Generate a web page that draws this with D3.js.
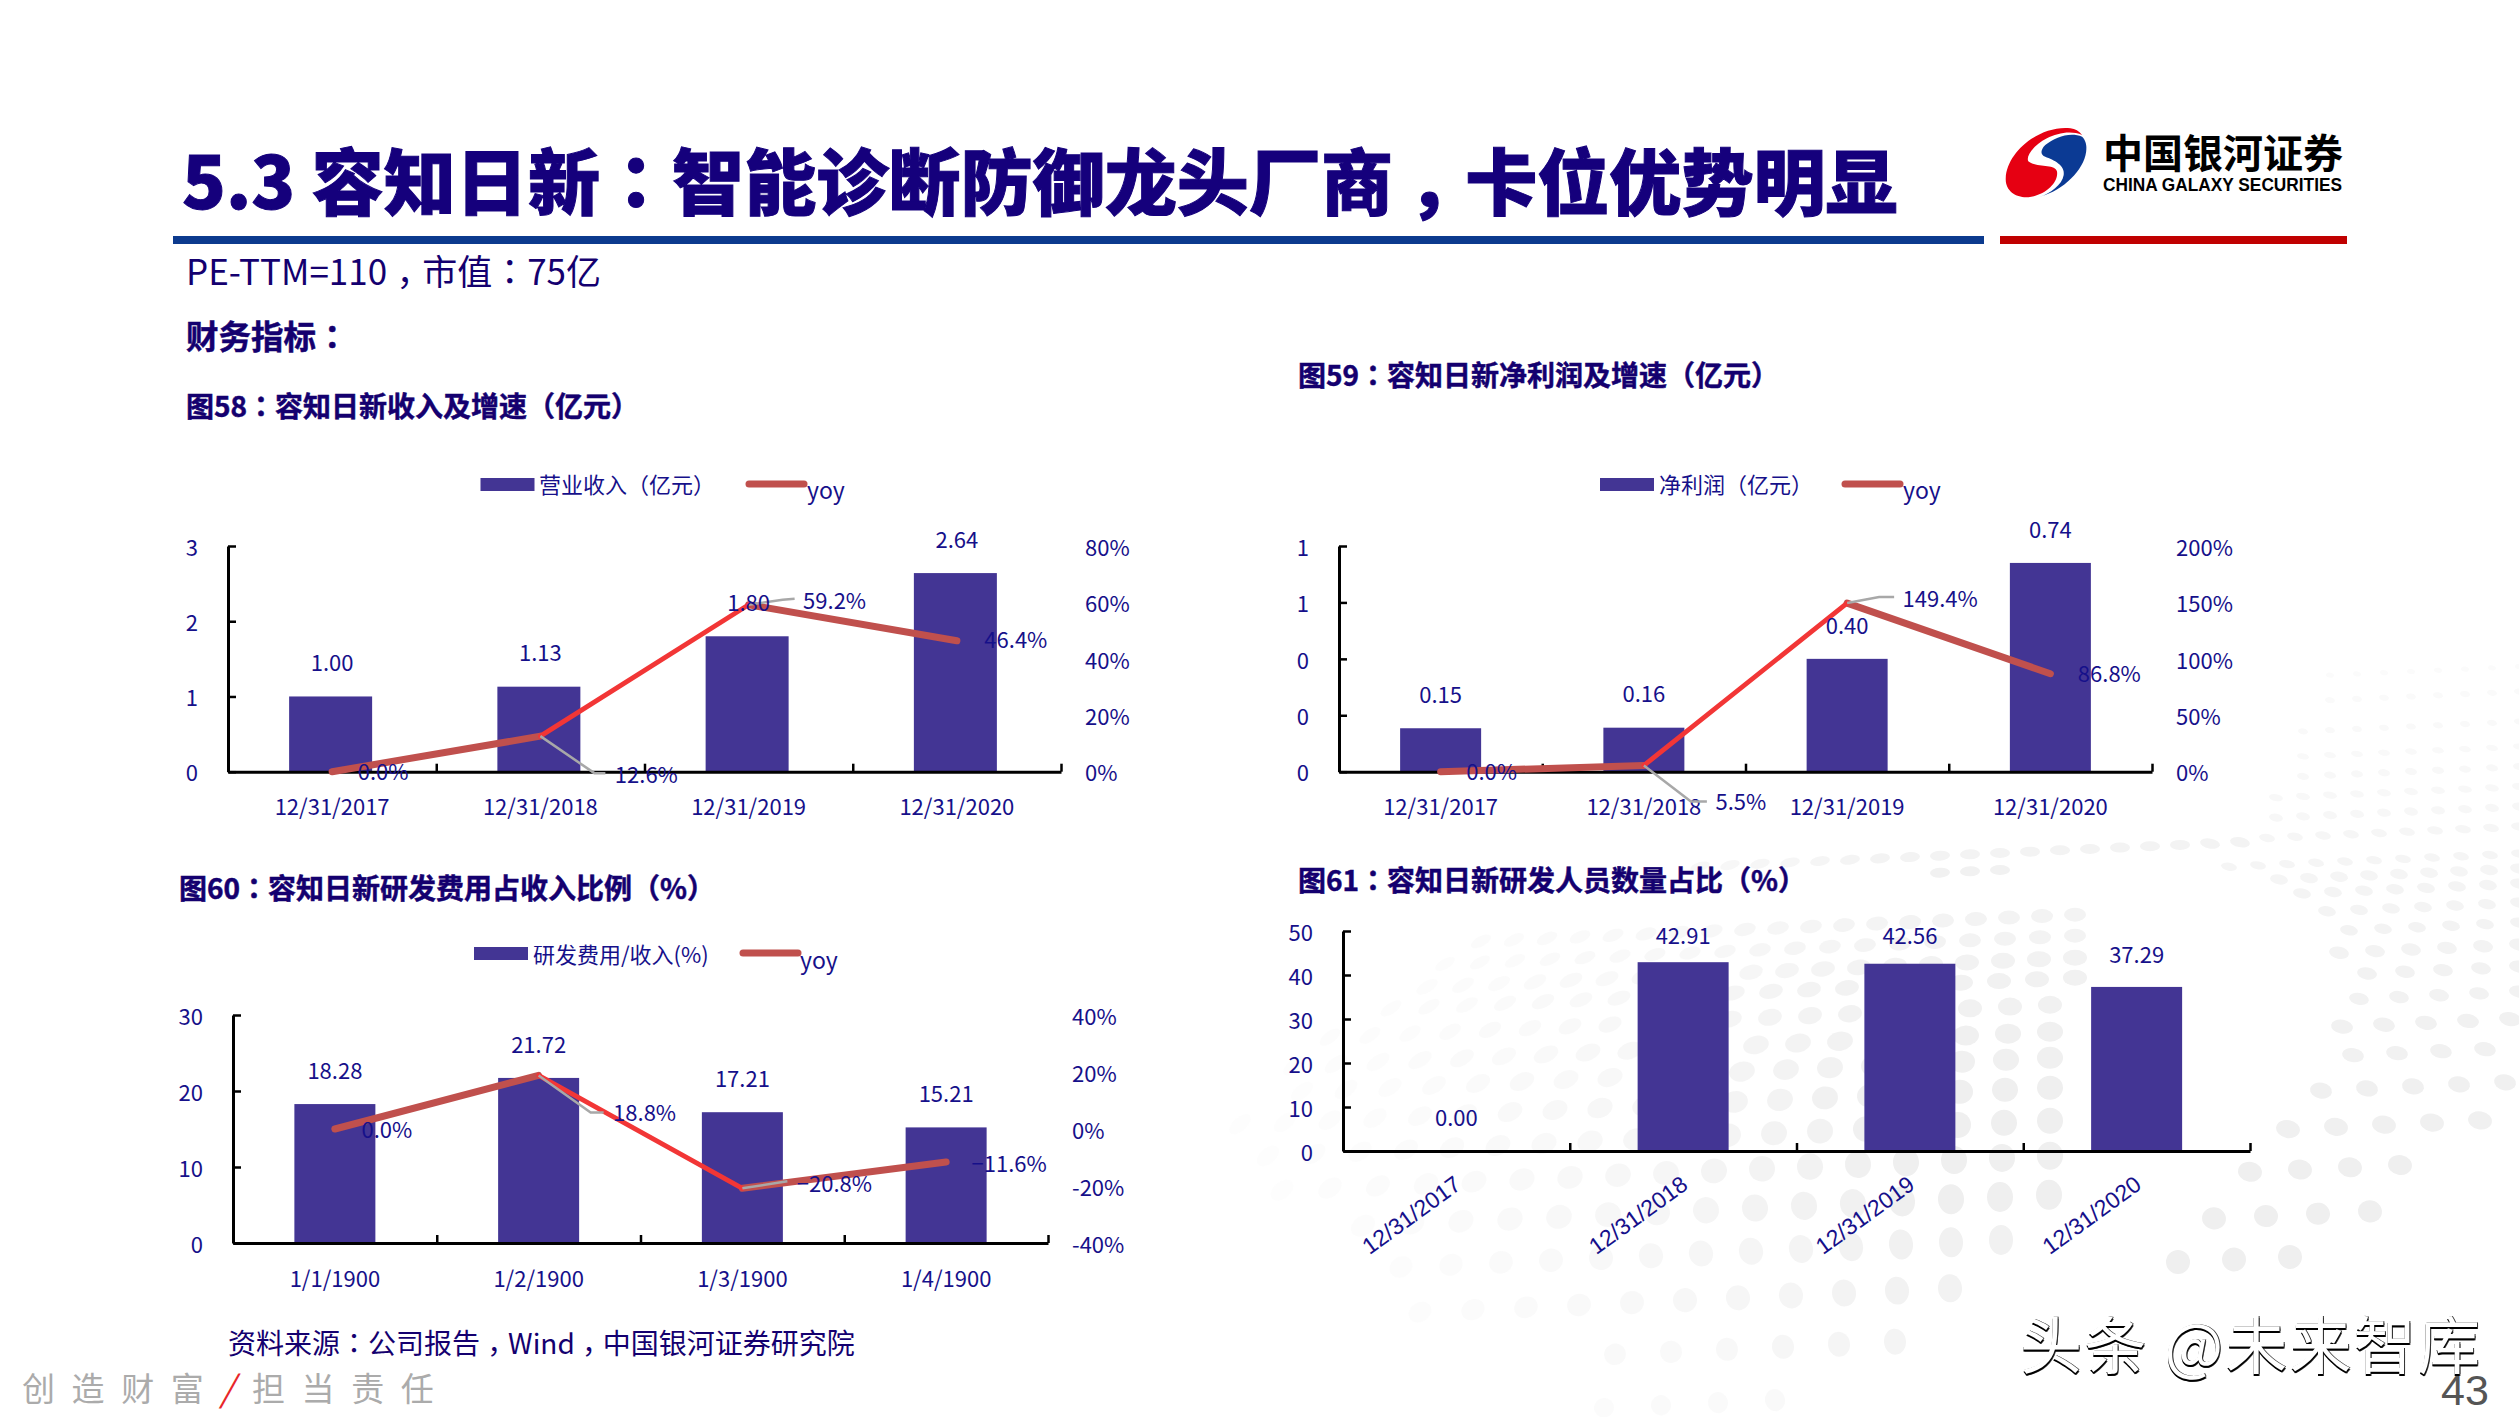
<!DOCTYPE html>
<html lang="zh-CN">
<head>
<meta charset="utf-8">
<title>容知日新</title>
<script src="https://cdn.jsdelivr.net/npm/d3@7/dist/d3.min.js"></script>
<style>
html,body{margin:0;padding:0;background:#fff;}
svg{display:block;}
text{font-family:"Noto Sans CJK SC","Noto Sans",sans-serif;}
</style>
</head>
<body>
<svg id="page" width="2519" height="1417" xmlns="http://www.w3.org/2000/svg"></svg>
<script>
// ---------- data ----------
const datesYear = ["12/31/2017","12/31/2018","12/31/2019","12/31/2020"];
const datesSerial = ["1/1/1900","1/2/1900","1/3/1900","1/4/1900"];

const revenue = [1.00,1.13,1.80,2.64];
const revenueYoy = [0.0,12.6,59.2,46.4];
const profit = [0.154,0.156,0.40,0.74];
const profitYoy = [0.0,5.5,149.4,86.8];
const rdRatio = [18.28,21.72,17.21,15.21];
const rdRatioYoy = [0.0,18.8,-20.8,-11.6];
const staffRatio = [0.00,42.91,42.56,37.29];

const leftTicks1 = [0,1,2,3];
const rightTicks1 = [0,20,40,60,80];
const leftTicks2 = [0,0.2,0.4,0.6,0.8];
const rightTicks2 = [0,50,100,150,200];
const leftTicks3 = [0,10,20,30];
const rightTicks3 = [-40,-20,0,20,40];
const leftTicks4 = [0,10,20,30,40,50];

// ---------- styles ----------
const NAVY = "#14006f", LABEL = "#16108a", BAR = "#433594";
const THICK = "#C0504D", THIN = "#F23636", LEADER = "#A8A8A8";
const SIZE = 22;

const svg = d3.select("#page");
const fmtPct = d3.format(".1f");

// rich text: fullwidth punctuation is centred in its cell in the reference
function rich(sel, str) {
  const parts = str.match(/[：（），]|[^：（），]+/g);
  parts.forEach((p, i) => {
    const t = sel.append("tspan").text(p);
    if ("：（），".includes(p)) t.attr("lang","zh-Hant").style("font-family", '"Noto Sans CJK TC"');
    if (p === "，") t.attr("dy", "0.3em");
    if (i > 0 && parts[i-1] === "，") t.attr("dy", "-0.3em");
  });
  return sel;
}
function label(x, y, str, o = {}) {
  const t = svg.append("text").attr("x", x).attr("y", y + (o.size ?? SIZE) * 0.35)
    .attr("font-size", o.size ?? SIZE)
    .attr("font-weight", o.weight ?? 400)
    .attr("fill", o.fill ?? LABEL)
    .attr("text-anchor", o.anchor ?? "start");
  if (o.spacing) t.attr("letter-spacing", o.spacing);
  if (o.family) t.style("font-family", o.family);
  if (o.stroke) t.attr("stroke", o.fill ?? LABEL).attr("stroke-width", o.stroke);
  return rich(t, str);
}

// ---------- background halftone (decoration) ----------
const dotRows = [
  // y at x=2000, xStart, xEnd, dx, rx, ry, tone
  [1390,1580,1775,57,10,12,"#f7f7f7"],[1337,1560,1895,56,11,13,"#f4f4f4"],
  [1286,1400,1950,53,12,14,"#f2f2f2"],[1240,1380,2001,50,12,15,"#f1f1f1"],
  [1197,1320,2049,49,13,15,"#efefef"],[1158,1280,2050,48,13,14,"#efefef"],
  [1123,1250,2050,46,13,13,"#efefef"],[1090,1240,2050,45,13,12,"#efefef"],
  [1060,1260,2050,44,13,11,"#f0f0f0"],[1034,1290,2050,42,13,10,"#f0f0f0"],
  [1007,1330,2050,40,12,9,"#f1f1f1"],[981,1380,2075,38,12,8,"#f1f1f1"],
  [961,1420,2075,36,12,8,"#f2f2f2"],[939,1440,2075,35,11,7,"#f3f3f3"],
  [918,1450,2075,33,11,7,"#f3f3f3"],
  [853,1700,2240,30,10,5,"#f3f3f3"],[870,1925,2000,30,10,5,"#f1f1f1"],
  [1270,2174,2290,56,12,12,"#efefef"],[1228,2209,2370,52,12,11,"#efefef"],
  [1183,2248,2400,50,12,10,"#efefef"],[1142,2284,2480,48,12,9,"#f0f0f0"],
  [1105,2318,2505,46,11,8,"#f0f0f0"],[1071,2349,2485,44,11,7,"#f1f1f1"],
  [1042,2334,2510,42,11,7,"#f1f1f1"],[1015,2359,2519,40,10,6,"#f2f2f2"],
  [990,2346,2519,38,10,6,"#f2f2f2"],[968,2333,2519,36,10,6,"#f3f3f3"],
  [946,2320,2519,34,9,5,"#f3f3f3"],[926,2311,2519,32,9,5,"#f4f4f4"],
  [907,2300,2519,31,9,5,"#f4f4f4"],[892,2259,2519,30,9,5,"#f5f5f5"],
  [877,2215,2519,29,8,4,"#f5f5f5"],[850,2250,2519,28,8,4,"#f6f6f6"],
  [830,2260,2519,27,7,4,"#f7f7f7"],[810,2270,2519,27,7,3.5,"#f8f8f8"],
  [790,2280,2519,27,6,3.5,"#f8f8f8"],[770,2290,2519,27,6,3,"#f9f9f9"],
  [745,2300,2519,27,5,3,"#f9f9f9"],[715,2310,2519,27,5,3,"#fafafa"],
  [690,2320,2519,27,4,2.5,"#fbfbfb"]
];
const dotLayer = svg.append("g");
dotRows.forEach(([y0,x0,x1,dx,rx,ry,tone]) => {
  for (let x = x1; x >= x0; x -= dx) {
    const fade = x < 1900 ? Math.max(0, (x - 1200) / 700) : 1;
    const tilt = x < 2000 ? -42 * (2000 - x) / 760 : (x > 2200 ? 10 : 0);
    dotLayer.append("ellipse")
      .attr("rx", rx).attr("ry", Math.max(2, ry * (0.55 + 0.45 * fade)))
      .attr("transform", `translate(${x},${y0 - 0.045 * (x - 2000)}) rotate(${tilt})`)
      .attr("fill", tone).attr("opacity", 0.12 + 0.88 * Math.pow(fade, 1.6));
  }
});

// ---------- header ----------
label(182, 184, "5.3 容知日新：智能诊断防御龙头厂商，卡位优势明显",
  {size:72.1, weight:900, fill:"#15007c", stroke:1});
svg.append("rect").attr("x",173).attr("y",236).attr("width",1811).attr("height",8).attr("fill","#0c3a8e");
svg.append("rect").attr("x",2000).attr("y",236).attr("width",347).attr("height",8).attr("fill","#c00000");

const logo = svg.append("g").attr("transform","translate(1990,115) scale(0.335,0.333)");
logo.append("path").attr("fill","#e60012")
  .attr("d","M240,40 C150,30 50,110 47,190 C45,230 80,250 115,247 C170,240 205,200 200,170 C195,145 140,160 115,140 C105,125 130,90 170,70 C200,55 240,45 275,60 C265,48 255,42 240,40 Z");
logo.append("path").attr("fill","#0b3a94")
  .attr("d","M275,65 C240,50 195,65 165,90 C150,105 150,120 165,125 C190,135 225,150 220,180 C215,210 180,235 150,245 C220,225 280,165 287,110 C290,90 285,75 275,65 Z");
label(2103, 154, "中国银河证券", {size:40, weight:700, fill:"#000"});
label(2103, 184.5, "CHINA GALAXY SECURITIES", {size:18, weight:700, fill:"#000", family:'"Liberation Sans"'})
  .attr("textLength",239).attr("lengthAdjust","spacingAndGlyphs");

label(186, 273, "PE-TTM=110，市值：75亿", {size:35, fill:NAVY});
label(186, 338, "财务指标：", {size:32.5, weight:700, fill:NAVY, stroke:0.5});
label(186, 407, "图58：容知日新收入及增速（亿元）", {size:28, weight:700, fill:NAVY, stroke:0.5});
label(1298, 376, "图59：容知日新净利润及增速（亿元）", {size:28, weight:700, fill:NAVY, stroke:0.5});
label(179, 889, "图60：容知日新研发费用占收入比例（%）", {size:28, weight:700, fill:NAVY, stroke:0.5});
label(1298, 881, "图61：容知日新研发人员数量占比（%）", {size:28, weight:700, fill:NAVY, stroke:0.5});

// ---------- charts ----------
function comboChart(c) {
  const g = svg.append("g");
  const n = c.categories.length;
  const band = d3.scaleBand().domain(c.categories).range([c.x0, c.x1]);
  const edge = d3.scaleLinear().domain([0, n]).range([c.x0, c.x1]);
  const yL = d3.scaleLinear().domain(d3.extent(c.leftTicks)).range([c.base, c.top]);

  // bars
  g.selectAll("rect.bar").data(c.bars).join("rect").attr("class","bar")
    .attr("x",(d,i)=>band(c.categories[i])+band.bandwidth()/2-c.barWidth/2+ (c.barShift||0))
    .attr("width",c.barWidth)
    .attr("y",d=>yL(d)).attr("height",d=>yL(0)-yL(d)).attr("fill",BAR);

  // axes
  const axL = g.append("g").attr("transform",`translate(${c.x0},0)`)
    .call(d3.axisLeft(yL).tickValues(c.leftTicks).tickFormat(d3.format(".0f"))
      .tickSize(-8).tickSizeOuter(0).tickPadding(30));
  const axB = g.append("g").attr("transform",`translate(0,${c.base})`)
    .call(d3.axisBottom(edge).tickValues(d3.range(1,n+1)).tickFormat("").tickSize(-8).tickSizeOuter(0));
  [axL,axB].forEach(a=>{
    a.selectAll("path.domain").attr("stroke","#000").attr("stroke-width",3);
    a.selectAll(".tick line").attr("stroke","#000").attr("stroke-width",2.5);
  });
  axL.selectAll("text").attr("font-size",SIZE).attr("fill",LABEL).attr("dy","0.42em")
    .style("font-family",'"Noto Sans CJK SC"');

  // category labels
  const cats = g.append("g");
  cats.selectAll("text").data(c.categories).join("text")
    .text(d=>d)
    .attr("fill",LABEL)
    .attr("text-anchor","middle")
    .attr("font-size",c.rotate?23:SIZE)
    .style("font-family",c.rotate?'"Liberation Sans"':'"Noto Sans CJK SC"')
    .attr("dy","0.35em")
    .attr("transform",d=>{
      const cx = band(d)+band.bandwidth()/2;
      return c.rotate
        ? `translate(${cx+c.rotate.dx},${c.rotate.y}) rotate(${c.rotate.angle})`
        : `translate(${cx},${c.labelY})`;
    });

  // right axis & line
  if (c.line) {
    const yR = d3.scaleLinear().domain(d3.extent(c.rightTicks)).range([c.base, c.top]);
    const axR = g.append("g").attr("transform",`translate(${c.x1},0)`)
      .call(d3.axisRight(yR).tickValues(c.rightTicks).tickFormat(d=>d+"%").tickSize(0).tickPadding(24));
    axR.select("path.domain").remove();
    axR.selectAll("text").attr("font-size",SIZE).attr("fill",LABEL).attr("dy","0.42em")
      .style("font-family",'"Noto Sans CJK SC"');

    const pts = c.line.map((v,i)=>[band(c.categories[i])+band.bandwidth()/2, yR(v)]);
    const seg = d3.line();
    [[0,1,THICK,7],[2,3,THICK,7],[1,2,THIN,4.8]].forEach(([a,b,col,w])=>{
      g.append("path").attr("d",seg([pts[a],pts[b]])).attr("fill","none")
        .attr("stroke",col).attr("stroke-width",w).attr("stroke-linecap","round");
    });
    c.leaders.forEach(l=>{
      const [px,py]=pts[l.i];
      g.append("path").attr("d",seg(l.path.map(([dx,dy])=>[px+dx,py+dy])))
        .attr("fill","none").attr("stroke",LEADER).attr("stroke-width",2.5);
    });
    c.line.forEach((v,i)=>{
      g.append("text").text(fmtPct(v)+"%")
        .attr("x",pts[i][0]+c.lineLabelOffset[i][0]).attr("y",pts[i][1]+c.lineLabelOffset[i][1])
        .attr("dy","0.35em").attr("text-anchor","middle").attr("font-size",SIZE)
        .attr("fill",LABEL);
    });
  }

  // bar value labels
  c.bars.forEach((v,i)=>{
    const off = c.barLabelOffset ? c.barLabelOffset[i] : -33;
    g.append("text").text(v.toFixed(2))
      .attr("x",band(c.categories[i])+band.bandwidth()/2)
      .attr("y",yL(v)+off).attr("dy","0.35em")
      .attr("text-anchor","middle").attr("font-size",SIZE).attr("fill",LABEL);
  });

  // legend
  if (c.legend) {
    const L = c.legend;
    g.append("rect").attr("x",L.sx).attr("y",L.sy).attr("width",54).attr("height",13).attr("fill",BAR);
    label(L.tx, L.ty, L.name, {size:22});
    g.append("path").attr("d",d3.line()([[L.lx,L.ly],[L.lx+55,L.ly]]))
      .attr("stroke",THICK).attr("stroke-width",7).attr("stroke-linecap","round");
    label(L.yx, L.yy, "yoy", {size:23});
  }
}

comboChart({
  categories:datesYear, bars:revenue, line:revenueYoy,
  leftTicks:leftTicks1, rightTicks:rightTicks1,
  x0:228,x1:1061,top:546,base:771.7,barWidth:83,barShift:-1.5,labelY:807,
  lineLabelOffset:[[51,1],[106,39],[86,-3],[59,0]],
  leaders:[{i:1,path:[[0,0],[54,37],[65,37]]},{i:2,path:[[0,0],[34,-5],[46,-6]]}],
  legend:{sx:480.5,sy:478,tx:539,ty:485,name:"营业收入（亿元）",lx:749,ly:484,yx:807,yy:491}
});
comboChart({
  categories:datesYear, bars:profit, line:profitYoy,
  leftTicks:leftTicks2, rightTicks:rightTicks2,
  x0:1339,x1:2152,top:546,base:771.7,barWidth:81,labelY:807,
  lineLabelOffset:[[51,1],[97,37],[93,-4],[59,1]],
  leaders:[{i:1,path:[[0,0],[47,36],[63,36]]},{i:2,path:[[0,0],[32,-6],[47,-6]]}],
  legend:{sx:1600,sy:478,tx:1659,ty:485,name:"净利润（亿元）",lx:1845,ly:484,yx:1903,yy:491}
});
comboChart({
  categories:datesSerial, bars:rdRatio, line:rdRatioYoy,
  leftTicks:leftTicks3, rightTicks:rightTicks3,
  x0:233,x1:1048,top:1015,base:1243,barWidth:81,labelY:1279,
  lineLabelOffset:[[52,1],[106,38],[92,-4],[63,2]],
  leaders:[{i:1,path:[[0,0],[52,37],[65,37]]},{i:2,path:[[0,0],[45,-7]]}],
  legend:{sx:474,sy:947,tx:533,ty:955,name:"研发费用/收入(%)",lx:743,ly:953,yx:800,yy:961}
});
comboChart({
  categories:datesYear, bars:staffRatio, line:null,
  leftTicks:leftTicks4,
  x0:1343,x1:2250,top:931,base:1151,barWidth:91,
  rotate:{dx:-45,y:1215,angle:-36},
  barLabelOffset:[-33,-26,-27,-32]
});

// ---------- footer ----------
label(228, 1344, "资料来源：公司报告，Wind，中国银河证券研究院", {size:28, fill:NAVY});
label(22, 1389, "创造财富", {size:33, fill:"#ababab", spacing:16.6});
label(220, 1389, "/", {size:36, fill:"#e8262a"}).style("font-style","italic");
label(252, 1389, "担当责任", {size:33, fill:"#ababab", spacing:16.6});

// watermark: white glyphs with a dark drop edge
label(2020, 1347.5, "头条 @未来智库", {size:62, fill:"#fff"})
  .attr("textLength",460)
  .style("filter","drop-shadow(0 2.5px 0 #000) drop-shadow(1px 0 0 #333)");

label(2441, 1390, "43", {size:43, fill:"#555", family:'"Liberation Sans"'});
</script>
</body>
</html>
